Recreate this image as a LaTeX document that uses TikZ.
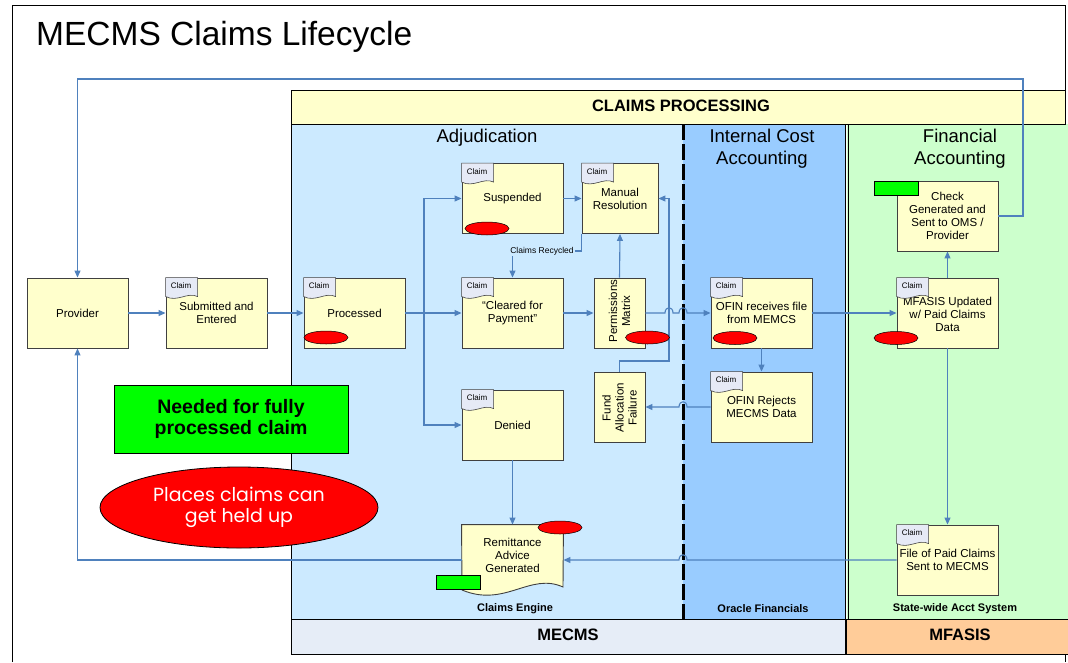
\documentclass[tikz,border=0pt]{standalone}
\usepackage{fontspec}
\setmainfont{Liberation Sans}
\newfontfamily\legendfont{Poppins}
\usetikzlibrary{arrows.meta,shapes.geometric,calc}
\definecolor{boxfill}{RGB}{255,255,204}
\definecolor{adjfill}{RGB}{204,234,255}
\definecolor{icafill}{RGB}{153,204,255}
\definecolor{fafill}{RGB}{204,255,204}
\definecolor{hdrfill}{RGB}{255,255,204}
\definecolor{mecmsfill}{RGB}{230,237,247}
\definecolor{mfasisfill}{RGB}{255,204,153}
\definecolor{conn}{RGB}{79,129,189}
\definecolor{tabfill}{RGB}{230,234,246}
\definecolor{edgegray}{RGB}{64,64,64}
\definecolor{gfill}{RGB}{0,255,0}
\tikzset{
  procbox/.style={draw=edgegray, line width=0.9pt, fill=boxfill, minimum width=101pt, minimum height=70pt, inner sep=2pt, align=center, font=\fontsize{11.5}{13}\selectfont},
  narrowbox/.style={procbox, minimum width=51pt},
  flow/.style={draw=conn, line width=1.1pt, -{Triangle[length=7pt,width=6pt]}},
  link/.style={draw=conn, line width=1.1pt},
  hold/.style={draw=black, line width=0.5pt, fill=red, ellipse, minimum width=44pt, minimum height=13pt, inner sep=0pt},
  need/.style={draw=black, line width=0.8pt, fill=gfill, minimum width=44pt, minimum height=14pt, inner sep=0pt},
  boxtext/.style={font=\fontsize{11.5}{13}\selectfont, align=center, inner sep=0pt},
  lanetitle/.style={font=\fontsize{18.5}{22}\selectfont, align=center, inner sep=0pt},
  lanefoot/.style={font=\bfseries\fontsize{11}{13}\selectfont, inner sep=0pt},
  bandtext/.style={font=\bfseries\fontsize{16.5}{20}\selectfont, inner sep=0pt},
}
\newcommand\claimtab[1]{%
  \begin{scope}[shift={(#1.north west)}]
    \path[draw=edgegray, line width=0.6pt, fill=tabfill] (0,0) -- (32,0) -- (32,19) .. controls (22,14) and (12,25) .. (0,19) -- cycle;
    \node[font=\fontsize{8}{9}\selectfont, inner sep=0pt] at (15.5,8.5) {Claim};
  \end{scope}}
\begin{document}
\begin{tikzpicture}[x=1pt,y=-1pt]
\useasboundingbox (0,0) rectangle (1068,662);
\fill[white] (0,0) rectangle (1068,662);
% outer frame
\draw[black, line width=0.8pt] (12,662) -- (12,5) -- (1065,5) -- (1065,662);
% title
\node[anchor=base west, font=\fontsize{33.5}{40}\selectfont, inner sep=0pt] (title) at (36,45) {MECMS Claims Lifecycle};
% lanes
\fill[adjfill] (291,124) rectangle (683,619);
\fill[icafill] (683,124) rectangle (845,619);
\fill[fafill] (847,124) rectangle (1068,619);
\draw[black, line width=0.8pt, fill=hdrfill] (291,90) rectangle (1065,124);
\draw[black, line width=0.8pt, fill=mecmsfill] (291,619) rectangle (846,654);
\draw[black, line width=0.8pt, fill=mfasisfill] (846,619) rectangle (1070,654);
\draw[black, line width=0.8pt] (291,124) -- (291,619);
\draw[black, line width=3pt, dash pattern=on 16pt off 4pt] (683,124) -- (683,619);
\draw[black, line width=0.8pt] (845,124) -- (845,654);
\draw[black, line width=0.8pt] (848,124) -- (848,619);
\node[bandtext] (hdr) at (681,106) {CLAIMS PROCESSING};
\node[bandtext] (ftm) at (568,635) {MECMS};
\node[bandtext] (ftf) at (960,635) {MFASIS};
\node[lanetitle] (ladj) at (487,138) {Adjudication};
\node[lanetitle] (lica) at (762,149) {Internal Cost\\Accounting};
\node[lanetitle] (lfa) at (960,149) {Financial\\Accounting};
\node[lanefoot] (fce) at (515,609) {Claims Engine};
\node[lanefoot] (fof) at (763,609) {Oracle Financials};
\node[lanefoot] (fsw) at (955,609) {State-wide Acct System};
% boxes
\node[procbox] (prov) at (77.5,313) {Provider};
\node[procbox] (subm) at (216.5,313) {Submitted and\\Entered};
\node[procbox] (proc) at (354.5,313) {Processed};
\node[procbox] (susp) at (512.5,198.5) {Suspended};
\node[procbox, minimum width=76pt] (man) at (620,198.5) {Manual\\Resolution};
\node[procbox] (clr) at (512.5,313) {``Cleared for\\Payment''};
\node[narrowbox] (perm) at (619.5,313) {};
\node[boxtext, rotate=90] (permtxt) at (619.5,311) {Permissions\\Matrix};
\node[narrowbox] (fund) at (619.5,407) {};
\node[boxtext, rotate=90] (fundtxt) at (619.5,408) {Fund\\Allocation\\Failure};
\node[procbox] (den) at (512.5,425) {Denied};
\node[procbox, draw=none, fill=none] (rem) at (512.5,560) {};
\path[draw=edgegray, line width=0.9pt, fill=boxfill] (rem.north west) -- (rem.north east) -- (563,587) .. controls (530,572) and (505,608) .. (462,590) -- cycle;
\node[boxtext] (remtxt) at (512.5,555.5) {Remittance\\Advice\\Generated};
\node[procbox] (ofr) at (761.5,313) {OFIN receives file\\from MEMCS};
\node[procbox] (ofj) at (761.5,407) {OFIN Rejects\\MECMS Data};
\node[procbox] (chk) at (947.5,216) {Check\\Generated and\\Sent to OMS /\\Provider};
\node[procbox] (mfu) at (947.5,313) {\\[-2pt]MFASIS Updated\\w/ Paid Claims\\Data};
\node[procbox] (fpc) at (947.5,560) {File of Paid Claims\\Sent to MECMS};
\node[font=\fontsize{8.5}{10}\selectfont, inner sep=1pt] (rec) at (542,251) {Claims Recycled};
% claim tabs
\claimtab{subm}
\claimtab{proc}
\claimtab{susp}
\claimtab{man}
\claimtab{clr}
\claimtab{den}
\claimtab{ofr}
\claimtab{ofj}
\claimtab{mfu}
\claimtab{fpc}
% connectors
\draw[flow] (prov.east) -- (subm.west);
\draw[flow] (subm.east) -- (proc.west);
\draw[flow] (proc.east) -- (clr.west);
\draw[flow] (proc.east) -- (424,313) |- (susp.west);
\draw[flow] (proc.east) -- (424,313) |- (den.west);
\draw[flow] (susp.east) -- (man.west);
\draw[link] (man.south west) |- (rec.east);
\draw[flow] (clr.north |- rec.south) -- (clr.north);
\draw[flow] (clr.east) -- (perm.west);
\draw[flow] (perm.north) -- (man.south);
\draw[flow] (perm.east) -- (665,313) .. controls (665,306) and (673,306) .. (673,313) -- (679,313) .. controls (679,306) and (687,306) .. (687,313) -- (ofr.west);
\draw[flow] (fund.north) |- (669,361) -- (669,198.5) -- (man.east);
\draw[flow] (ofr.south) -- (ofj.north);
\draw[flow] (ofj.west) -- (687,407) .. controls (687,400) and (679,400) .. (679,407) -- (fund.east);
\draw[flow] (ofr.east) -- (mfu.west);
\draw[flow] (mfu.north) -- (chk.south);
\draw[flow] (mfu.south) -- (fpc.north);
\draw[flow] (fpc.west) -- (687,560) .. controls (687,553) and (679,553) .. (679,560) -- (rem.east);
\draw[flow] (den.south) -- (rem.north);
\draw[flow] (chk.east) -| (1023,79) -| (prov.north);
\draw[flow] (rem.west) -| (prov.south);
% hold-up markers and needed markers
\node[hold] (hproc) at (326,337.5) {};
\node[hold] (hsusp) at (487,228.5) {};
\node[hold] (hperm) at (647.5,337.5) {};
\node[hold] (hofr) at (735,338) {};
\node[hold] (hmfu) at (896,338) {};
\node[hold] (hrem) at (560,527.5) {};
\node[need] (grem) at (458,582) {};
\node[need] (gchk) at (896,188) {};
% legend
\node[draw=black, line width=0.8pt, fill=gfill, minimum width=234pt, minimum height=68pt, font=\bfseries\fontsize{19.5}{21}\selectfont, align=center, inner sep=0pt] (lgg) at (231,419) {Needed for fully\\processed claim};
\node[ellipse, draw=black, line width=0.8pt, fill=red, minimum width=278pt, minimum height=81pt, text=white, font=\legendfont\fontsize{19}{21}\selectfont, align=center, inner sep=0pt] (lgr) at (239,507.5) {Places claims can\\get held up};
\end{tikzpicture}
\end{document}
